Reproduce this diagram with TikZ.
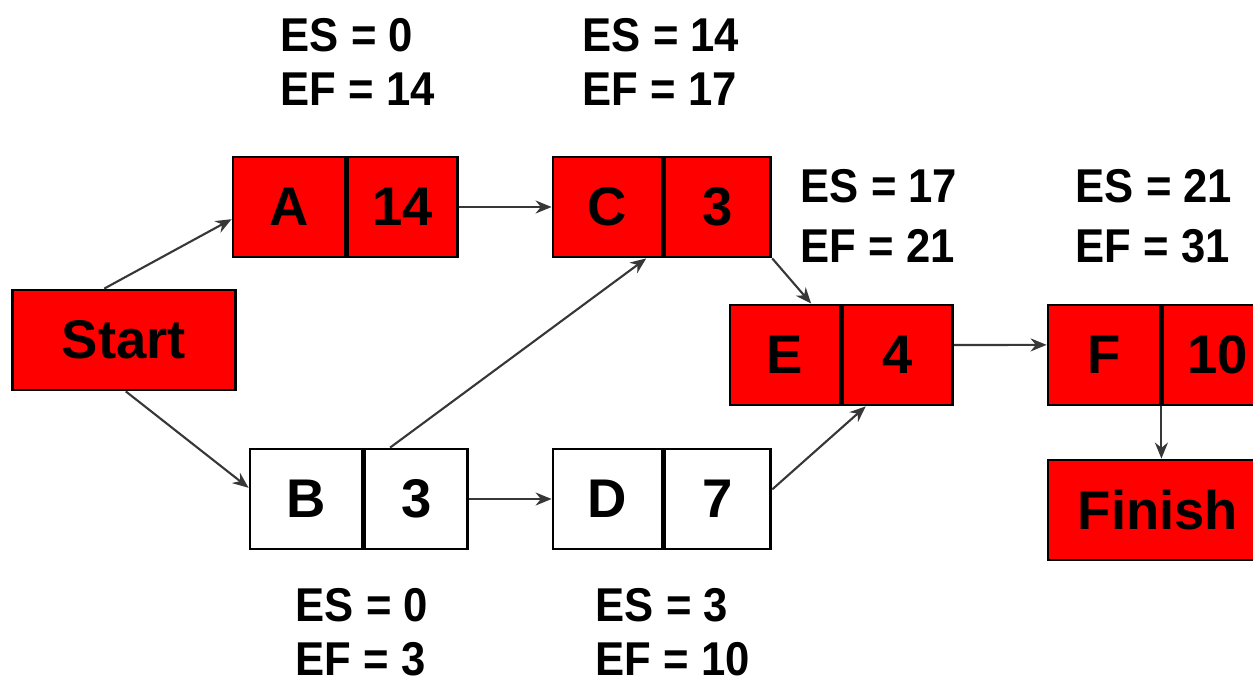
\documentclass[tikz,border=0pt]{standalone}
\usepackage{fontspec}
\setmainfont{Liberation Sans}
\newfontfamily\timesfont[FakeStretch=0.92]{Liberation Sans}
\usetikzlibrary{positioning,arrows.meta}

\definecolor{critred}{RGB}{255,0,0}
\definecolor{linkgray}{RGB}{55,55,55}

\tikzset{
    cell/.style={draw=black, thick, minimum width=1.1cm, minimum height=1cm, inner sep=0pt,
        font=\fontsize{15.5}{18}\selectfont\bfseries},
    crit/.style={cell, fill=critred},
    plain/.style={cell, fill=white},
    times/.style={anchor=west, align=left, inner sep=0pt,
        font=\timesfont\fontsize{13.5}{15.5}\selectfont\bfseries},
    link/.style={->, linkgray, line width=0.6pt, >={Stealth[length=1.6mm,width=1.3mm]}}
}

\begin{document}
\begin{tikzpicture}
    \useasboundingbox (0,0) rectangle (12.53,-6.82);
    % activities: name cell with its duration cell on the right
    \node[crit, minimum width=2.23cm] (Start) at (1.24,-3.40) {Start};
    \node[crit, minimum width=1.12cm] (A) at (2.89,-2.07) {A};
    \node[crit, right=0pt of A] (Ad) {14};
    \node[crit, minimum width=1.09cm] (C) at (6.075,-2.07) {C};
    \node[crit, minimum width=1.06cm, right=0pt of C] (Cd) {3};
    \node[crit] (E) at (7.85,-3.55) {E};
    \node[crit, right=0pt of E] (Ed) {4};
    \node[crit, minimum width=1.12cm] (F) at (11.04,-3.55) {F};
    \node[crit, right=0pt of F] (Fd) {10};
    \node[crit, minimum width=2.2cm] (Finish) at (11.58,-5.10) {Finish};
    \node[plain, minimum width=1.12cm] (B) at (3.06,-4.99) {B};
    \node[plain, minimum width=1.03cm, right=0pt of B] (Bd) {3};
    \node[plain, minimum width=1.09cm] (D) at (6.075,-4.99) {D};
    \node[plain, minimum width=1.06cm, right=0pt of D] (Dd) {7};

    % earliest start / finish
    \node[times] (Atimes) at (2.80,-0.62) {ES = 0\\EF = 14};
    \node[times] (Ctimes) at (5.82,-0.62) {ES = 14\\EF = 17};
    \node[times] (Etimes) at (8.00,-2.16) {ES = 17\\[1.7pt]EF = 21};
    \node[times] (Ftimes) at (10.75,-2.16) {ES = 21\\[1.7pt]EF = 31};
    \node[times] (Btimes) at (2.95,-6.32) {ES = 0\\EF = 3};
    \node[times] (Dtimes) at (5.95,-6.32) {ES = 3\\EF = 10};

    % precedence links
    \draw[link] (Start.111) -- (A.192);
    \draw[link] (Start.-88) -- (B.169);
    \draw[link] (Ad.east) -- (C.west);
    \draw[link] (Bd.117) -- (C.-53);
    \draw[link] (Bd.east) -- (D.west);
    \draw[link] (Cd.south east) -- (E.63);
    \draw[link] (Dd.10) -- (Ed.238);
    \draw[link] (Ed.10) -- (F.170);
    \draw[link] (Fd.south west) -- (Fd.south west |- Finish.north);
\end{tikzpicture}
\end{document}
